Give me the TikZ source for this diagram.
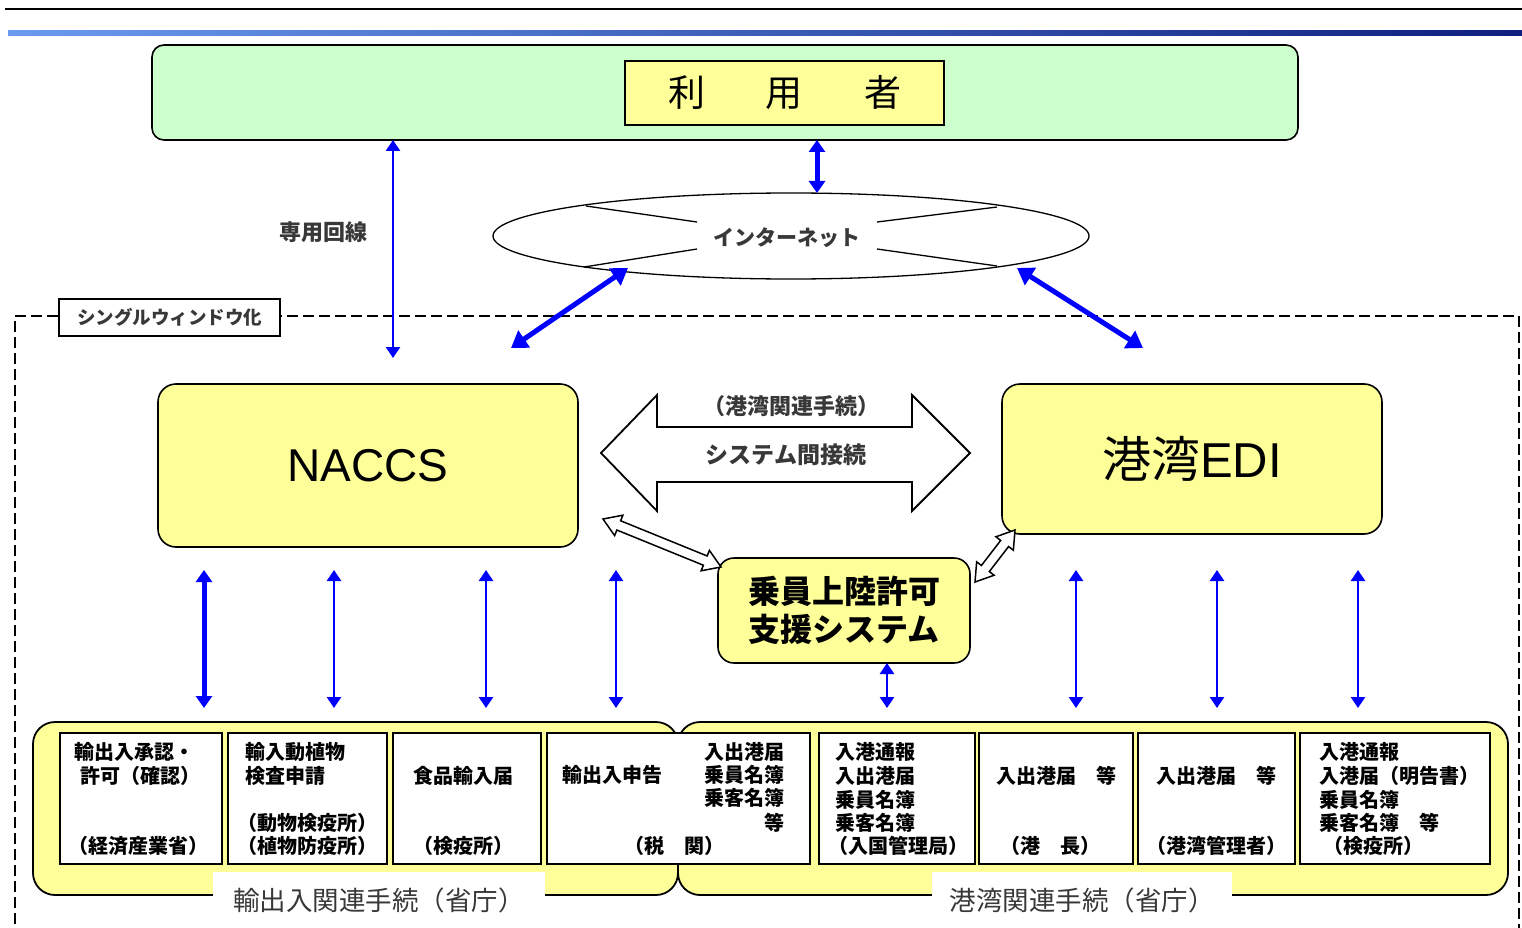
\documentclass[tikz,border=0pt]{standalone}
\usepackage{fontspec}
\setmainfont{Liberation Sans}
\newfontfamily\jp{Noto Sans CJK JP}
\usetikzlibrary{arrows.meta,shapes.geometric,calc}
\definecolor{ugreen}{HTML}{CCFFCC}
\definecolor{uyellow}{HTML}{FFFF99}
\definecolor{gleft}{HTML}{6A9BEF}
\definecolor{gright}{HTML}{0F1F7F}
\definecolor{tgray}{HTML}{383838}
\newcommand\fsz[2]{\fontsize{#1}{#2}\selectfont}
\newcommand\hollowdarrow[2]{%
  \draw[line width=1.5pt, fill=white]
  (#1) -- ($(#1)!17pt!(#2)!11pt!90:(#2)$) -- ($(#1)!17pt!(#2)!5pt!90:(#2)$)
  -- ($(#2)!17pt!(#1)!5pt!-90:(#1)$) -- ($(#2)!17pt!(#1)!11pt!-90:(#1)$)
  -- (#2) -- ($(#2)!17pt!(#1)!11pt!90:(#1)$) -- ($(#2)!17pt!(#1)!5pt!90:(#1)$)
  -- ($(#1)!17pt!(#2)!5pt!-90:(#2)$) -- ($(#1)!17pt!(#2)!11pt!-90:(#2)$) -- cycle;}
\begin{document}
\begin{tikzpicture}[x=1pt,y=-1pt,
  every node/.style={inner sep=0pt, outer sep=0pt},
  barrow/.style={color=blue, line width=2.6pt, {Triangle[length=11pt,width=14pt]}-{Triangle[length=11pt,width=14pt]}},
  bmid/.style={color=blue, line width=5pt, {Triangle[length=12pt,width=16pt]}-{Triangle[length=12pt,width=16pt]}},
  bthick/.style={color=blue, line width=5pt, {Triangle[length=16pt,width=20pt]}-{Triangle[length=16pt,width=20pt]}},
  ybox/.style={draw, fill=uyellow, line width=1.6pt},
  wbox/.style={draw, fill=white, line width=1.8pt, minimum height=131pt},
  btxt/.style={font=\jp\bfseries\fsz{20pt}{23pt}, text=black},
  gtxt/.style={text=tgray},
]
\useasboundingbox (0,0) rectangle (1522,928);
\fill[white] (0,0) rectangle (1522,928);

% header rules
\draw[line width=2.5pt] (5,9) -- (1522,9);
\shade[left color=gleft, right color=gright] (8,31) rectangle (1522,36);

% users
\node[draw, line width=1.6pt, fill=ugreen, rounded corners=12pt, minimum width=1146pt, minimum height=95pt] (user) at (725,92.5) {};
\node[draw, line width=1.8pt, fill=uyellow, minimum width=319pt, minimum height=64pt] (userlbl) at (784.5,93)
  {\jp\fsz{37pt}{40pt}利\hspace{61pt}用\hspace{61pt}者};

% single window frame
\draw[line width=1.6pt, dash pattern=on 11pt off 5pt] (15,940) -- (15,316) -- (1519,316) -- (1519,940);
\node[draw, fill=white, line width=1.6pt, minimum width=221pt, minimum height=37pt] (sw) at (169.5,317.5)
  {\jp\bfseries\fsz{18.5pt}{20pt}\textcolor{tgray}{シングルウィンドウ化}};

% internet
\node[draw, ellipse, line width=1.3pt, minimum width=596pt, minimum height=86pt] (inet) at (791,236) {};
\node[gtxt] (inettxt) at (787,238) {\jp\bfseries\fsz{21pt}{22pt}インターネット};
\draw[line width=1.3pt] (586,206) -- (697,222);
\draw[line width=1.3pt] (584,267) -- (697,249);
\draw[line width=1.3pt] (997,207) -- (877,222);
\draw[line width=1.3pt] (997,266) -- (877,249);

% main systems
\node[ybox, rounded corners=18pt, minimum width=420pt, minimum height=163pt] (naccs) at (368,465.5)
  {\fsz{46pt}{48pt}NACCS};
\node[ybox, rounded corners=18pt, minimum width=380pt, minimum height=150pt] (edi) at (1192,459)
  {\fsz{49pt}{50pt}{\jp 港湾}EDI};
\node[ybox, rounded corners=16pt, minimum width=252pt, minimum height=105pt, align=center,
  font=\jp\bfseries\fsz{32pt}{38pt}] (jouin) at (844,610.5)
  {乗員上陸許可\\支援システム};

% big hollow double arrow
\draw[line width=1.8pt, fill=white] (601,453) -- (657,395) -- (657,427) -- (912,427) -- (912,395) -- (970,453)
  -- (912,511) -- (912,482) -- (657,482) -- (657,511) -- cycle;
\node[gtxt] (koan) at (791,406) {\jp\bfseries\fsz{22pt}{24pt}（港湾関連手続）};
\node[gtxt] (setsu) at (786,455) {\jp\bfseries\fsz{23pt}{24pt}システム間接続};

% small hollow arrows
\coordinate (ha1) at (603,519);
\coordinate (ha2) at (721,567);
\coordinate (hb1) at (975,582);
\coordinate (hb2) at (1015,530);
\hollowdarrow{ha1}{ha2}
\hollowdarrow{hb1}{hb2}

% blue connectors at top
\coordinate (c817) at (817,0);
\draw[bmid] (user.south -| c817) -- (inet.north -| c817);
\coordinate (c393) at (393,358);
\draw[barrow] (user.south -| c393) -- (c393);
\node[gtxt] (senyo) at (323,232) {\jp\bfseries\fsz{22pt}{24pt}専用回線};
\coordinate (dA1) at (628,268);
\coordinate (dA2) at (511,348);
\coordinate (dB1) at (1017,268);
\coordinate (dB2) at (1143,348);
\draw[bthick] (dA1) -- (dA2);
\draw[bthick] (dB1) -- (dB2);

% bottom groups
\node[ybox, line width=1.8pt, rounded corners=22pt, minimum width=645pt, minimum height=173pt] (grpL) at (355.5,808.5) {};
\node[ybox, line width=1.8pt, rounded corners=22pt, minimum width=830pt, minimum height=173pt] (grpR) at (1093,808.5) {};

\node[wbox, minimum width=162pt] (b1) at (141,798.5) {};
\node[wbox, minimum width=159pt] (b2) at (307.5,798.5) {};
\node[wbox, minimum width=148pt] (b3) at (467,798.5) {};
\node[wbox, minimum width=263pt] (b4) at (678.5,798.5) {};
\node[wbox, minimum width=156pt] (b5) at (897,798.5) {};
\node[wbox, minimum width=154pt] (b6) at (1056,798.5) {};
\node[wbox, minimum width=157pt] (b7) at (1216.5,798.5) {};
\node[wbox, minimum width=190pt] (b8) at (1395,798.5) {};

% box texts
\node[btxt, anchor=west] (t1a) at (74,752) {輸出入承認・};
\node[btxt, anchor=west] (t1b) at (80,776) {許可（確認）};
\node[btxt, anchor=west] (t1c) at (68,846) {（経済産業省）};

\node[btxt, anchor=west] (t2a) at (245,752) {輸入動植物};
\node[btxt, anchor=west] (t2b) at (245,776) {検査申請};
\node[btxt, anchor=west] (t2c) at (237,823) {（動物検疫所）};
\node[btxt, anchor=west] (t2d) at (237,846) {（植物防疫所）};

\node[btxt] (t3a) at (463,776) {食品輸入届};
\node[btxt] (t3b) at (463,846) {（検疫所）};

\node[btxt, anchor=west] (t4a) at (562,775) {輸出入申告};
\node[btxt, anchor=east] (t4b) at (784,752) {入出港届};
\node[btxt, anchor=east] (t4c) at (784,775) {乗員名簿};
\node[btxt, anchor=east] (t4d) at (784,798) {乗客名簿};
\node[btxt, anchor=east] (t4e) at (784,823) {等};
\node[btxt] (t4f) at (674,846) {（税　関）};

\node[btxt, anchor=west] (t5a) at (835,752) {入港通報};
\node[btxt, anchor=west] (t5b) at (835,776) {入出港届};
\node[btxt, anchor=west] (t5c) at (835,800) {乗員名簿};
\node[btxt, anchor=west] (t5d) at (835,823) {乗客名簿};
\node[btxt, anchor=west] (t5e) at (828,846) {（入国管理局）};

\node[btxt] (t6a) at (1056,776) {入出港届　等};
\node[btxt] (t6b) at (1050,846) {（港　長）};

\node[btxt] (t7a) at (1216,776) {入出港届　等};
\node[btxt] (t7b) at (1216,846) {（港湾管理者）};

\node[btxt, anchor=west] (t8a) at (1319,752) {入港通報};
\node[btxt, anchor=west] (t8b) at (1319,776) {入港届（明告書）};
\node[btxt, anchor=west] (t8c) at (1319,800) {乗員名簿};
\node[btxt, anchor=west] (t8d) at (1319,823) {乗客名簿　等};
\node[btxt] (t8e) at (1373,846) {（検疫所）};

% group labels
\node[fill=white, minimum width=332pt, minimum height=56pt] (lblL) at (379,900)
  {\jp\fsz{26.5pt}{28pt}\textcolor{tgray}{輸出入関連手続（省庁）}};
\node[fill=white, minimum width=300pt, minimum height=56pt] (lblR) at (1082,900)
  {\jp\fsz{26.5pt}{28pt}\textcolor{tgray}{港湾関連手続（省庁）}};

% blue vertical connectors
\foreach \x/\s in {204/bmid, 334/barrow, 486/barrow, 616/barrow, 1076/barrow, 1217/barrow, 1358/barrow} {
  \coordinate (vt\x) at (\x,570);
  \coordinate (vb\x) at (\x,708);
  \draw[\s] (vt\x) -- (vb\x);
}
\coordinate (c887) at (887,708);
\draw[barrow] (jouin.south -| c887) -- (c887);
\end{tikzpicture}
\end{document}
